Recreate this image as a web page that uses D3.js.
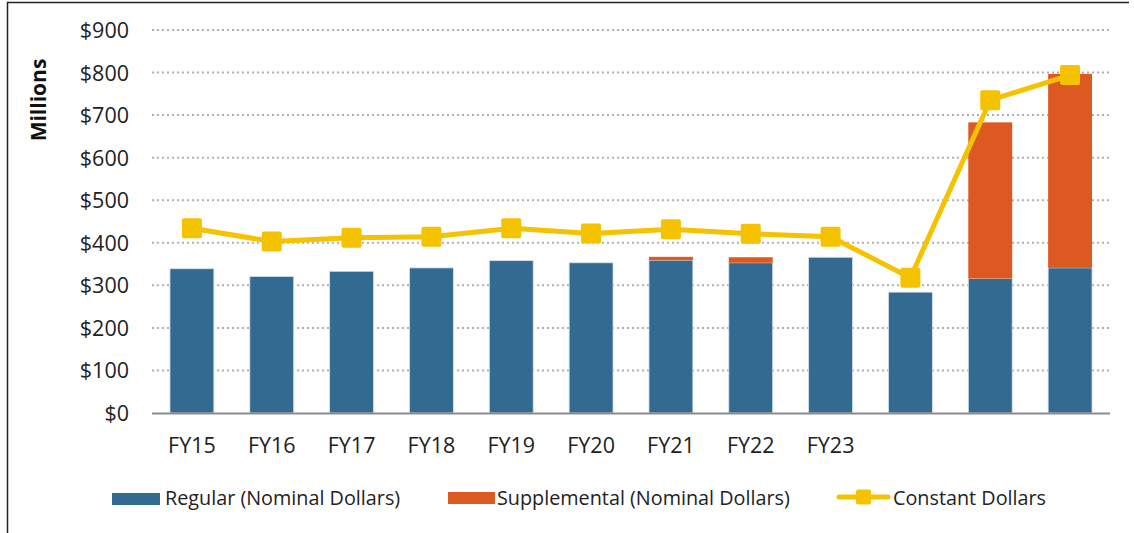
<!DOCTYPE html>
<html>
<head>
<meta charset="utf-8">
<script src="https://cdn.jsdelivr.net/npm/d3@7"></script>
<style>
  body { margin: 0; background: #fff; }
  svg { display: block; font-family: "Open Sans", sans-serif; }
</style>
</head>
<body>
<script>
// chart data
var years = ["FY15", "FY16", "FY17", "FY18", "FY19", "FY20", "FY21", "FY22", "FY23", "FY24", "FY25", "FY26"];
var yearLabels = ["FY15", "FY16", "FY17", "FY18", "FY19", "FY20", "FY21", "FY22", "FY23", "", "", ""];
var regular = [339, 321, 333, 341, 358, 353, 359, 353, 366, 284, 316, 341];
var supplemental = [0, 0, 0, 0, 0, 0, 8, 13, 0, 0, 367, 456];
var constant = [434, 403, 412, 414, 434, 422, 432, 421, 414, 318, 735, 794];
var yTicks = [0, 100, 200, 300, 400, 500, 600, 700, 800, 900];

var width = 1134;
var height = 533;

var svg = d3.select("body").append("svg")
    .attr("width", width)
    .attr("height", height);

// frame (left and top edges are visible)
svg.append("path")
    .attr("d", "M7.5,533V2.5H1129")
    .attr("fill", "none")
    .attr("stroke", "#222")
    .attr("stroke-width", 1.5);

var x = d3.scaleBand()
    .domain(years)
    .range([152, 1110])
    .paddingInner(0.45)
    .paddingOuter(0.225);

var y = d3.scaleLinear()
    .domain([0, 900])
    .range([413, 30]);

// gridlines
svg.append("g")
    .selectAll("line")
    .data(yTicks.filter(function(d) { return d > 0; }))
    .enter().append("line")
    .attr("x1", 152)
    .attr("x2", 1110)
    .attr("y1", function(d) { return y(d); })
    .attr("y2", function(d) { return y(d); })
    .attr("stroke", "#b0b0b0")
    .attr("stroke-width", 2)
    .attr("stroke-dasharray", "2,3");

// y axis labels
var yAxis = d3.axisLeft(y)
    .tickValues(yTicks)
    .tickFormat(function(d) { return "$" + d; })
    .tickSize(0)
    .tickPadding(0);

var yg = svg.append("g")
    .attr("transform", "translate(129,0)")
    .call(yAxis);
yg.select(".domain").remove();
yg.selectAll("text")
    .attr("font-size", "21.5px")
    .attr("font-family", "Open Sans, sans-serif")
    .attr("fill", "#222")
    .attr("dy", "0.35em");

// y title
svg.append("text")
    .attr("transform", "translate(46,100) rotate(-90)")
    .attr("text-anchor", "middle")
    .attr("font-size", "21px")
    .attr("font-weight", "bold")
    .attr("fill", "#111")
    .text("Millions");

// regular bars
svg.append("g")
    .selectAll("rect")
    .data(years)
    .enter().append("rect")
    .attr("x", function(d) { return x(d); })
    .attr("width", x.bandwidth())
    .attr("y", function(d, i) { return y(regular[i]); })
    .attr("height", function(d, i) { return y(0) - y(regular[i]); })
    .attr("fill", "#336a91")
    .attr("stroke", "#d8e2ea")
    .attr("stroke-width", 0.8);

// supplemental bars stacked on top
svg.append("g")
    .selectAll("rect")
    .data(years.filter(function(d, i) { return supplemental[i] > 0; }))
    .enter().append("rect")
    .attr("x", function(d) { return x(d); })
    .attr("width", x.bandwidth())
    .attr("y", function(d) { var i = years.indexOf(d); return y(regular[i] + supplemental[i]); })
    .attr("height", function(d) { var i = years.indexOf(d); return y(regular[i]) - y(regular[i] + supplemental[i]); })
    .attr("fill", "#dc5a22");

// x axis line
svg.append("line")
    .attr("x1", 152)
    .attr("x2", 1110)
    .attr("y1", y(0) + 0.5)
    .attr("y2", y(0) + 0.5)
    .attr("stroke", "#8c8c8c")
    .attr("stroke-width", 2);

// x labels
svg.append("g")
    .selectAll("text")
    .data(years)
    .enter().append("text")
    .attr("x", function(d) { return x(d) + x.bandwidth() / 2; })
    .attr("y", 453)
    .attr("text-anchor", "middle")
    .attr("font-size", "21.5px")
    .attr("fill", "#222")
    .text(function(d, i) { return yearLabels[i]; });

// constant dollars line
var line = d3.line()
    .x(function(d, i) { return x(years[i]) + x.bandwidth() / 2; })
    .y(function(d) { return y(d); });

svg.append("path")
    .datum(constant)
    .attr("d", line)
    .attr("fill", "none")
    .attr("stroke", "#f5c200")
    .attr("stroke-width", 5)
    .attr("stroke-linejoin", "round");

svg.append("g")
    .selectAll("rect")
    .data(constant)
    .enter().append("rect")
    .attr("x", function(d, i) { return x(years[i]) + x.bandwidth() / 2 - 10; })
    .attr("y", function(d) { return y(d) - 10; })
    .attr("width", 20)
    .attr("height", 20)
    .attr("rx", 2)
    .attr("fill", "#f5c200");

// legend
var legend = svg.append("g");

legend.append("rect")
    .attr("x", 112).attr("y", 493)
    .attr("width", 48).attr("height", 12)
    .attr("fill", "#336a91");
legend.append("text")
    .attr("x", 165).attr("y", 505)
    .attr("font-size", "19.8px").attr("fill", "#222")
    .text("Regular (Nominal Dollars)");

legend.append("rect")
    .attr("x", 448).attr("y", 492)
    .attr("width", 47).attr("height", 12)
    .attr("fill", "#dc5a22");
legend.append("text")
    .attr("x", 497).attr("y", 505)
    .attr("font-size", "19.8px").attr("fill", "#222")
    .text("Supplemental (Nominal Dollars)");

legend.append("line")
    .attr("x1", 839).attr("x2", 888)
    .attr("y1", 497).attr("y2", 497)
    .attr("stroke", "#f5c200").attr("stroke-width", 5)
    .attr("stroke-linecap", "round");
legend.append("rect")
    .attr("x", 856).attr("y", 489.5)
    .attr("width", 15).attr("height", 15)
    .attr("rx", 2)
    .attr("fill", "#f5c200");
legend.append("text")
    .attr("x", 893).attr("y", 505)
    .attr("font-size", "19.8px").attr("fill", "#222")
    .text("Constant Dollars");
</script>
</body>
</html>
